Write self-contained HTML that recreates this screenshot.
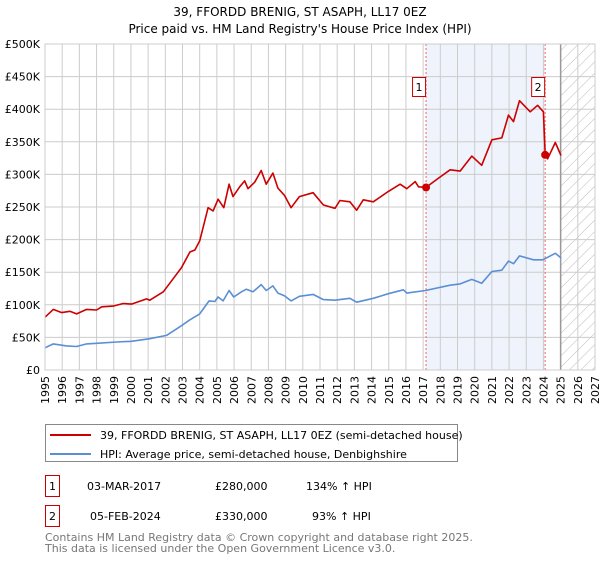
<!DOCTYPE html>
<html><head><meta charset="utf-8"><style>
body{margin:0;background:#fff;width:600px;height:560px;overflow:hidden;font-family:"DejaVu Sans","Liberation Sans",sans-serif;}
svg text{font-family:"DejaVu Sans","Liberation Sans",sans-serif;}
</style></head><body>
<svg id="c" width="600" height="560" xmlns="http://www.w3.org/2000/svg">
<defs><pattern id="hatch" width="8" height="8" patternUnits="userSpaceOnUse" patternTransform="rotate(45)"><line x1="0" y1="0" x2="0" y2="8" stroke="#bbb" stroke-width="1"/></pattern></defs>
<text x="300" y="16" text-anchor="middle" font-size="12">39, FFORDD BRENIG, ST ASAPH, LL17 0EZ</text>
<text x="300" y="33" text-anchor="middle" font-size="12">Price paid vs. HM Land Registry's House Price Index (HPI)</text>
<g id="plot"></g>
<g>
<rect x="45.5" y="424.5" width="412" height="37" fill="#fff" stroke="#888"/>
<line x1="50" y1="435" x2="91" y2="435" stroke="#cc0000" stroke-width="2"/>
<text x="100" y="439" font-size="11">39, FFORDD BRENIG, ST ASAPH, LL17 0EZ (semi-detached house)</text>
<line x1="50" y1="454" x2="91" y2="454" stroke="#5b8fd4" stroke-width="2"/>
<text x="100" y="458" font-size="11">HPI: Average price, semi-detached house, Denbighshire</text>
</g>
<g font-size="11">
<rect x="45.5" y="475.5" width="14" height="21" fill="none" stroke="#cc0000"/>
<text x="52.5" y="490" text-anchor="middle">1</text>
<text x="87" y="490">03-MAR-2017</text>
<text x="215" y="490">£280,000</text>
<text x="306" y="490">134% ↑ HPI</text>
<rect x="45.5" y="505.5" width="14" height="21" fill="none" stroke="#cc0000"/>
<text x="52.5" y="520" text-anchor="middle">2</text>
<text x="90" y="520">05-FEB-2024</text>
<text x="215" y="520">£330,000</text>
<text x="312" y="520">93% ↑ HPI</text>
</g>
<text x="45" y="541" font-size="11" fill="#777">Contains HM Land Registry data © Crown copyright and database right 2025.</text>
<text x="45" y="552" font-size="11" fill="#777">This data is licensed under the Open Government Licence v3.0.</text>
</svg>
<script>
const years=[1995,1996,1997,1998,1999,2000,2001,2002,2003,2004,2005,2006,2007,2008,2009,2010,2011,2012,2013,2014,2015,2016,2017,2018,2019,2020,2021,2022,2023,2024,2025,2026,2027];
const yTicks=[0,50,100,150,200,250,300,350,400,450,500];
const yTickLabels=["£0","£50K","£100K","£150K","£200K","£250K","£300K","£350K","£400K","£450K","£500K"];
const priceT=[1995,1995.48,1995.97,1996.45,1996.84,1997.42,1998,1998.3,1998.97,1999.55,2000.03,2000.91,2001.1,2001.88,2002.46,2002.94,2003.43,2003.72,2004,2004.49,2004.78,2005.07,2005.4,2005.71,2005.94,2006.33,2006.62,2006.81,2007.2,2007.58,2007.87,2008.26,2008.55,2008.93,2009.32,2009.8,2010.6,2011.2,2011.87,2012.16,2012.74,2013.13,2013.52,2014.1,2014.98,2015.66,2016.05,2016.54,2016.73,2017.17,2017.99,2018.57,2019.15,2019.83,2020.41,2021,2021.58,2021.97,2022.26,2022.61,2023.23,2023.66,2024.0,2024.1,2024.24,2024.69,2025.02];
const priceV=[81,93,88,90,86,93,92,97,98,102,101,109,107,120,140,157,181,184,198,249,244,262,249,285,266,281,290,278,288,306,285,302,279,268,249,266,272,253,248,260,258,245,261,258,274,285,278,289,281,280,296,307,305,328,314,353,356,391,381,413,396,406,396,330,324,349,329];
const hpiT=[1995,1995.48,1996.26,1996.84,1997.42,1998,1999.17,2000.03,2001.1,2002.07,2002.94,2003.43,2004,2004.55,2004.88,2005.07,2005.36,2005.71,2005.98,2006.43,2006.72,2007.1,2007.58,2007.87,2008.26,2008.55,2008.93,2009.32,2009.8,2010.6,2011.2,2011.87,2012.74,2013.13,2014.1,2014.98,2015.85,2016.05,2017.14,2018.57,2019.15,2019.83,2020.41,2021,2021.58,2021.97,2022.26,2022.61,2023.42,2023.97,2024.69,2025.02];
const hpiV=[34,40,37,36,40,41,43,44,48,53,68,77,86,106,105,112,106,122,112,120,124,120,131,122,129,118,114,106,113,116,108,107,110,104,110,117,123,118,122,130,132,139,133,151,153,167,163,175,169,169,179,172];
const saleT=[2017.17,2024.1];
const saleV=[280,330];
const saleLabels=["1","2"];
const L=45,R=595,T=44,B=370;
const X=t=>L+(t-1995)/(2027-1995)*(R-L);
const Y=v=>B-v/500*(B-T);
const NS="http://www.w3.org/2000/svg";
const g=document.getElementById('plot');
function el(tag,attrs,parent){const e=document.createElementNS(NS,tag);for(const k in attrs)e.setAttribute(k,attrs[k]);(parent||g).appendChild(e);return e;}
// shaded band
let band=el('rect',{x:X(saleT[0]),y:T,width:X(saleT[1])-X(saleT[0]),height:B-T,fill:'#eef3fc'});


let hat=el('rect',{x:X(2025),y:T,width:R-X(2025),height:B-T,fill:'url(#hatch)'});


// grid
years.forEach(y=>{const l=el('line',{x1:X(y),x2:X(y),y1:T,y2:B,stroke:'#ccc'});


const t=el('text',{x:0,y:0,'font-size':11,'text-anchor':'end',transform:`translate(${X(y)+4},${B+6}) rotate(-90)`});t.textContent=y;

});
yTicks.forEach((v,i)=>{const l=el('line',{x1:L,x2:R,y1:Y(v),y2:Y(v),stroke:'#ccc'});


const t=el('text',{x:40,y:Y(v)+4,'font-size':11,'text-anchor':'end'});t.textContent=yTickLabels[i];

});
let fl=el('line',{x1:X(2025),x2:X(2025),y1:T,y2:B,stroke:'#999','stroke-width':1.5});


// sale lines
saleT.forEach((t,i)=>{const l=el('line',{x1:X(t),x2:X(t),y1:T,y2:B,stroke:'#e66','stroke-dasharray':'2,2'});

});
function path(ts,vs,color,name){const d=ts.map((t,i)=>(i?'L':'M')+X(t).toFixed(1)+','+Y(vs[i]).toFixed(1)).join('');
const p=el('path',{d:d,fill:'none',stroke:color,'stroke-width':1.6,'stroke-linejoin':'round'});

}
path(hpiT,hpiV,'#5b8fd4','hpi-line');
path(priceT,priceV,'#cc0000','price-line');
saleT.forEach((t,i)=>{const c=el('circle',{cx:X(t),cy:Y(saleV[i]),r:4,fill:'#cc0000'});


const b=el('rect',{x:X(t)-13.5,y:77.5,width:13,height:19,fill:'#fff',stroke:'#cc0000'});


const tx=el('text',{x:X(t)-7,y:91,'font-size':11,'text-anchor':'middle'});tx.textContent=saleLabels[i];

});
el('rect',{x:L,y:T,width:R-L,height:B-T,fill:'none',stroke:'#ccc'});
</script>
</body></html>
